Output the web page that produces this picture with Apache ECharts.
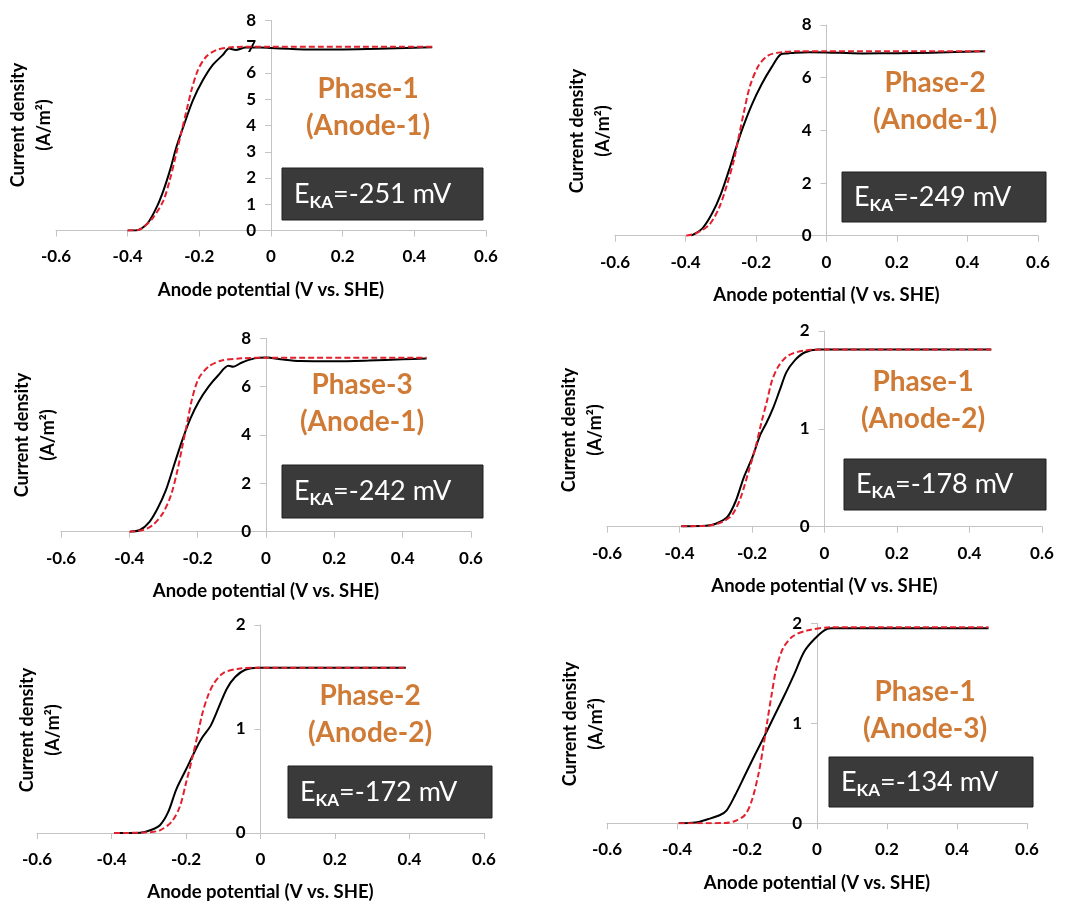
<!DOCTYPE html>
<html>
<head>
<meta charset="utf-8">
<script src="https://cdn.jsdelivr.net/npm/echarts@6/dist/echarts.min.js"></script>
<style>
html,body{margin:0;padding:0;background:#fff;}
#chart{width:1066px;height:903px;}
</style>
</head>
<body>
<div id="chart"></div>
<script>
// ---------- data ----------
const xTicks = ['-0.6','-0.4','-0.2','0','0.2','0.4','0.6'];

const p1Exp = [[-0.40,0],[-0.378,0],[-0.346,0.25],[-0.319,0.89],[-0.300,1.53],[-0.282,2.29],[-0.264,3.18],[-0.245,3.94],[-0.218,4.96],[-0.190,5.73],[-0.163,6.30],[-0.135,6.68],[-0.117,6.93],[-0.098,6.88],[-0.071,6.97],[-0.03,6.97],[0.0,6.95],[0.05,6.92],[0.1,6.90],[0.2,6.90],[0.3,6.92],[0.4,6.96],[0.45,6.98]];
const p1Fit = [[-0.40,0],[-0.37,0.02],[-0.355,0.13],[-0.328,0.51],[-0.300,1.15],[-0.282,1.95],[-0.264,2.95],[-0.250,3.75],[-0.236,4.55],[-0.222,5.34],[-0.204,6.11],[-0.181,6.62],[-0.153,6.87],[-0.117,6.97],[-0.08,7.0],[0.0,7.0],[0.45,7.0]];

const p2Exp = [[-0.384,0],[-0.352,0.28],[-0.324,0.86],[-0.300,1.57],[-0.277,2.47],[-0.259,3.24],[-0.240,4.01],[-0.212,4.97],[-0.184,5.75],[-0.156,6.39],[-0.128,6.90],[-0.110,6.92],[-0.09,6.95],[-0.05,6.97],[0,6.96],[0.1,6.92],[0.2,6.93],[0.3,6.95],[0.45,7.0]];
const p2Fit = [[-0.398,0],[-0.370,0.09],[-0.333,0.41],[-0.305,1.05],[-0.282,1.95],[-0.263,2.85],[-0.249,3.75],[-0.235,4.65],[-0.217,5.68],[-0.193,6.45],[-0.166,6.84],[-0.128,6.97],[-0.08,7.0],[0,7.0],[0.45,7.0]];

const p3Exp = [[-0.398,0],[-0.369,0.07],[-0.341,0.41],[-0.317,0.97],[-0.293,1.72],[-0.269,2.76],[-0.245,3.79],[-0.221,4.69],[-0.197,5.38],[-0.168,6.0],[-0.139,6.48],[-0.110,6.86],[-0.096,6.82],[-0.072,6.99],[-0.034,7.17],[0,7.21],[0.05,7.12],[0.1,7.06],[0.2,7.05],[0.3,7.08],[0.4,7.13],[0.47,7.16]];
const p3Fit = [[-0.40,0],[-0.360,0.07],[-0.331,0.28],[-0.302,0.76],[-0.278,1.52],[-0.259,2.55],[-0.245,3.52],[-0.230,4.55],[-0.216,5.52],[-0.197,6.34],[-0.168,6.83],[-0.130,7.08],[-0.072,7.17],[0,7.2],[0.47,7.2]];

const p4Exp = [[-0.395,0.005],[-0.327,0.01],[-0.300,0.03],[-0.268,0.10],[-0.245,0.26],[-0.223,0.50],[-0.200,0.70],[-0.177,0.94],[-0.159,1.07],[-0.141,1.22],[-0.123,1.40],[-0.105,1.58],[-0.082,1.70],[-0.055,1.78],[-0.018,1.81],[0.1,1.81],[0.46,1.81]];
const p4Fit = [[-0.395,0.005],[-0.318,0.01],[-0.282,0.05],[-0.255,0.12],[-0.232,0.29],[-0.209,0.57],[-0.191,0.80],[-0.173,1.08],[-0.159,1.28],[-0.145,1.49],[-0.127,1.64],[-0.100,1.75],[-0.055,1.80],[0,1.81],[0.46,1.81]];

const p5Exp = [[-0.393,0],[-0.323,0.003],[-0.296,0.026],[-0.270,0.075],[-0.248,0.20],[-0.226,0.42],[-0.200,0.61],[-0.173,0.81],[-0.156,0.92],[-0.134,1.03],[-0.112,1.21],[-0.090,1.39],[-0.068,1.50],[-0.041,1.57],[-0.006,1.59],[0.39,1.59]];
const p5Fit = [[-0.393,0],[-0.305,0.006],[-0.270,0.026],[-0.239,0.107],[-0.217,0.25],[-0.200,0.48],[-0.182,0.74],[-0.169,0.94],[-0.156,1.15],[-0.142,1.31],[-0.125,1.44],[-0.099,1.54],[-0.059,1.58],[0,1.59],[0.39,1.59]];

const p6Exp = [[-0.395,0],[-0.348,0.007],[-0.310,0.043],[-0.277,0.083],[-0.258,0.13],[-0.234,0.28],[-0.206,0.48],[-0.178,0.68],[-0.149,0.88],[-0.121,1.08],[-0.093,1.28],[-0.064,1.50],[-0.036,1.72],[-0.008,1.84],[0.021,1.93],[0.040,1.95],[0.49,1.95]];
const p6Fit = [[-0.395,0],[-0.263,0.003],[-0.234,0.023],[-0.206,0.083],[-0.187,0.22],[-0.168,0.48],[-0.154,0.75],[-0.142,1.02],[-0.130,1.28],[-0.116,1.55],[-0.097,1.75],[-0.069,1.87],[-0.026,1.93],[0.04,1.96],[0.49,1.96]];

const yMax = [8, 8, 8, 2, 2, 2];
const yStep = [1, 2, 2, 1, 1, 1];
const phaseNames = ['Phase-1', 'Phase-2', 'Phase-3', 'Phase-1', 'Phase-2', 'Phase-1'];
const anodeNames = ['(Anode-1)', '(Anode-1)', '(Anode-1)', '(Anode-2)', '(Anode-2)', '(Anode-3)'];
const ekaValues = ['-251', '-249', '-242', '-178', '-172', '-134'];
const xTitle = 'Anode potential (V vs. SHE)';
const yTitle = 'Current density\n(A/m²)';

const expSets = [p1Exp, p2Exp, p3Exp, p4Exp, p5Exp, p6Exp];
const fitSets = [p1Fit, p2Fit, p3Fit, p4Fit, p5Fit, p6Fit];

// ---------- layout (pixels) ----------
const layout = [
  {grid:{left:56, top:20.5, width:430, height:210},  ytitle:[31,125],  phase:[368,107.5], box:[282,168,201,52]},
  {grid:{left:615, top:25, width:423, height:210.7}, ytitle:[590,131], phase:[935,101.5], box:[842,172,204,50]},
  {grid:{left:61, top:338.3, width:410, height:193.4}, ytitle:[35,435], phase:[362,403], box:[282,465,201,53]},
  {grid:{left:607, top:331, width:435, height:195.7}, ytitle:[582,430], phase:[923,400.5], box:[844,459,202,51]},
  {grid:{left:37, top:625, width:447, height:208.3}, ytitle:[40,730], phase:[370,714.5], box:[288,766,204,52]},
  {grid:{left:607, top:623.3, width:420, height:200}, ytitle:[583,724], phase:[925,710.5], box:[829,757,204,50]}
];

const FONT = 'Lato';
const AXIS_GRAY = '#c4c4c4';

const grids = [], xAxes = [], yAxes = [], series = [], graphics = [];

layout.forEach((L, i) => {
  grids.push(Object.assign({containLabel:false}, L.grid));
  xAxes.push({
    type:'value', gridIndex:i, min:-0.6, max:0.6, interval:0.2,
    axisLine:{show:true, onZero:false, lineStyle:{color:AXIS_GRAY, width:1}},
    axisTick:{show:true, length:6, lineStyle:{color:AXIS_GRAY}},
    splitLine:{show:false},
    axisLabel:{color:'#000', fontFamily:FONT, fontWeight:'bold', fontSize:17, margin:18,
      formatter: v => xTicks[Math.round((v + 0.6) / 0.2)]},
    name:xTitle, nameLocation:'middle', nameGap:50,
    nameTextStyle:{color:'#000', fontFamily:FONT, fontWeight:'bold', fontSize:18.5}
  });
  yAxes.push({
    type:'value', gridIndex:i, min:0, max:yMax[i], interval:yStep[i],
    position:'left', offset:-(L.grid.width / 2),
    axisLine:{show:true, onZero:false, lineStyle:{color:AXIS_GRAY, width:1}},
    axisTick:{show:true, length:6, lineStyle:{color:AXIS_GRAY}},
    splitLine:{show:false},
    axisLabel:{color:'#000', fontFamily:FONT, fontWeight:'bold', fontSize:17, margin:15, hideOverlap:false}
  });
  series.push({
    type:'line', xAxisIndex:i, yAxisIndex:i, data:expSets[i], showSymbol:false,
    smooth:0.3,
    lineStyle:{color:'#000', width:2}, z:2, silent:true
  });
  series.push({
    type:'line', xAxisIndex:i, yAxisIndex:i, data:fitSets[i], showSymbol:false,
    smooth:0.3,
    lineStyle:{color:'#e5202e', width:2, type:[6,3]}, z:3, silent:true
  });

  // y-axis title
  graphics.push({
    type:'text', x:L.ytitle[0], y:L.ytitle[1], rotation:Math.PI/2,
    style:{text:yTitle, fontFamily:FONT, fontWeight:'bold', fontSize:18, fill:'#000',
      align:'center', verticalAlign:'middle', textAlign:'center', textVerticalAlign:'middle', lineHeight:26}
  });
  // phase label
  graphics.push({
    type:'text', x:L.phase[0], y:L.phase[1],
    style:{text:phaseNames[i] + '\n' + anodeNames[i], fontFamily:FONT, fontWeight:'bold', fontSize:28,
      fill:'#cf7a35', align:'center', verticalAlign:'middle', textAlign:'center', textVerticalAlign:'middle', lineHeight:37}
  });
  // E_KA box
  const b = L.box;
  graphics.push({
    type:'rect', shape:{x:b[0], y:b[1], width:b[2], height:b[3]},
    style:{fill:'#3a3a3a', stroke:'#1e1e1e', lineWidth:1}
  });
  graphics.push({
    type:'text', x:b[0] + 12, y:b[1] + b[3] / 2,
    style:{
      text:'{e|E}{s|KA}{e|=' + ekaValues[i] + ' mV}',
      align:'left', verticalAlign:'middle', textAlign:'left', textVerticalAlign:'middle',
      rich:{
        e:{fontFamily:FONT, fontSize:27, fill:'#fff', color:'#fff', lineHeight:34, verticalAlign:'middle'},
        s:{fontFamily:FONT, fontSize:17, fontWeight:'bold', fill:'#fff', color:'#fff', lineHeight:17, verticalAlign:'bottom'}
      }
    }
  });
});

const chart = echarts.init(document.getElementById('chart'), null, {renderer:'canvas'});
chart.setOption({
  backgroundColor:'#fff',
  animation:false,
  grid:grids, xAxis:xAxes, yAxis:yAxes, series:series, graphic:graphics
});
</script>
</body>
</html>
